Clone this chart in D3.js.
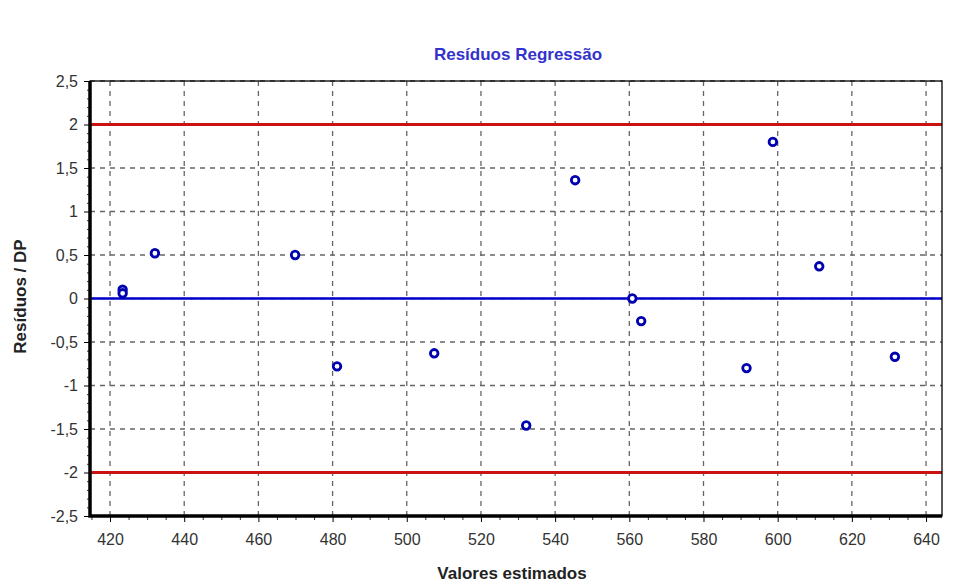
<!DOCTYPE html>
<html>
<head>
<meta charset="utf-8">
<script src="https://cdn.jsdelivr.net/npm/d3@7"></script>
<style>
  body { margin: 0; background: #fff; }
  text { font-family: "Liberation Sans", Arial, sans-serif; }
</style>
</head>
<body>
<div class="chart"></div>
<script>
var svgWidth = 971;
var svgHeight = 585;

var margin = { top: 81, right: 29, bottom: 69, left: 90 };
var width = svgWidth - margin.left - margin.right;
var height = svgHeight - margin.top - margin.bottom;

// data
var estimados = [423.4, 423.4, 432.1, 469.9, 481.2, 507.4, 532.2, 545.4, 560.8, 563.2, 591.6, 598.7, 611.2, 631.6];
var residuos = [0.10, 0.06, 0.52, 0.50, -0.78, -0.63, -1.46, 1.36, 0.0, -0.26, -0.80, 1.80, 0.37, -0.67];
var xTicks = [420, 440, 460, 480, 500, 520, 540, 560, 580, 600, 620, 640];
var yTicks = [-2.5, -2, -1.5, -1, -0.5, 0, 0.5, 1, 1.5, 2, 2.5];
var limites = [2, -2];

var points = estimados.map((d, i) => ({ x: d, y: residuos[i] }));

var svg = d3.select(".chart")
  .append("svg")
  .attr("width", svgWidth)
  .attr("height", svgHeight);

var chartGroup = svg.append("g")
  .attr("transform", `translate(${margin.left}, ${margin.top})`);

var xScale = d3.scaleLinear().domain([414.6, 644.3]).range([0, width]);
var yScale = d3.scaleLinear().domain([-2.5, 2.5]).range([height, 0]);

var fmt = d => String(d).replace(".", ",");

// grid
chartGroup.append("g").selectAll("line")
  .data(xTicks)
  .enter().append("line")
  .attr("x1", d => xScale(d)).attr("x2", d => xScale(d))
  .attr("y1", 0).attr("y2", height)
  .attr("stroke", "#666")
  .attr("stroke-width", 1.3)
  .attr("stroke-dasharray", "5,5");

chartGroup.append("g").selectAll("line")
  .data(yTicks)
  .enter().append("line")
  .attr("x1", 0).attr("x2", width)
  .attr("y1", d => yScale(d)).attr("y2", d => yScale(d))
  .attr("stroke", "#666")
  .attr("stroke-width", 1.3)
  .attr("stroke-dasharray", "5,5");

// minor ticks
var xMinor = d3.range(415, 645, 5).filter(d => xTicks.indexOf(d) < 0);
var yMinor = d3.range(-24, 25).map(d => d / 10).filter(d => Math.abs(d * 2 - Math.round(d * 2)) > 1e-6);

chartGroup.append("g")
  .attr("transform", `translate(0, ${height})`)
  .call(d3.axisBottom(xScale).tickValues(xMinor).tickSize(4).tickFormat(""))
  .call(g => g.select(".domain").remove())
  .selectAll("line").attr("stroke", "#333");

chartGroup.append("g")
  .call(d3.axisLeft(yScale).tickValues(yMinor).tickSize(3).tickFormat(""))
  .call(g => g.select(".domain").remove())
  .selectAll("line").attr("stroke", "#333");

// major axes
var xAxis = chartGroup.append("g")
  .attr("transform", `translate(0, ${height})`)
  .call(d3.axisBottom(xScale).tickValues(xTicks).tickSize(6).tickPadding(12).tickFormat(fmt));
xAxis.select(".domain").remove();
xAxis.selectAll("text").attr("font-size", "16px").attr("fill", "#333");

var yAxis = chartGroup.append("g")
  .call(d3.axisLeft(yScale).tickValues(yTicks).tickSize(6).tickPadding(6).tickFormat(fmt));
yAxis.select(".domain").remove();
yAxis.selectAll("text").attr("font-size", "16px").attr("fill", "#333");

// reference lines
chartGroup.selectAll(".limite")
  .data(limites)
  .enter().append("line")
  .attr("x1", 0).attr("x2", width)
  .attr("y1", d => yScale(d)).attr("y2", d => yScale(d))
  .attr("stroke", "#cc1111")
  .attr("stroke-width", 3);

chartGroup.append("line")
  .attr("x1", 0).attr("x2", width)
  .attr("y1", yScale(0)).attr("y2", yScale(0))
  .attr("stroke", "#0000cc")
  .attr("stroke-width", 2.5);

// frame
chartGroup.append("rect")
  .attr("width", width).attr("height", height)
  .attr("fill", "none")
  .attr("stroke", "#000")
  .attr("stroke-width", 1.3);
chartGroup.append("path")
  .attr("d", `M0,0V${height}H${width}`)
  .attr("fill", "none")
  .attr("stroke", "#000")
  .attr("stroke-width", 3.5);

// points
chartGroup.selectAll("circle")
  .data(points)
  .enter().append("circle")
  .attr("cx", d => xScale(d.x))
  .attr("cy", d => yScale(d.y))
  .attr("r", 3.8)
  .attr("fill", "#fff")
  .attr("stroke", "#0000b0")
  .attr("stroke-width", 2.8);

// labels
svg.append("text")
  .attr("x", margin.left + width / 2 + 2)
  .attr("y", 60)
  .attr("text-anchor", "middle")
  .attr("font-size", "17px")
  .attr("font-weight", "bold")
  .attr("fill", "#3333cc")
  .text("Resíduos Regressão");

svg.append("text")
  .attr("x", margin.left + width / 2 - 4)
  .attr("y", 579)
  .attr("text-anchor", "middle")
  .attr("font-size", "17px")
  .attr("font-weight", "bold")
  .attr("fill", "#222")
  .text("Valores estimados");

svg.append("text")
  .attr("transform", `translate(26, ${margin.top + height / 2 - 2}) rotate(-90)`)
  .attr("text-anchor", "middle")
  .attr("font-size", "17px")
  .attr("font-weight", "bold")
  .attr("fill", "#222")
  .text("Resíduos / DP");
</script>
</body>
</html>
